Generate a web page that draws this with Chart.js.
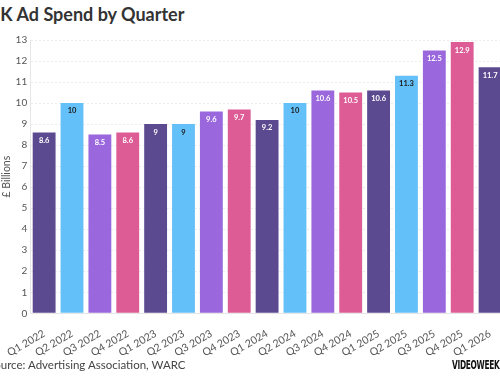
<!DOCTYPE html>
<html>
<head>
<meta charset="utf-8">
<script src="https://cdn.jsdelivr.net/npm/chart.js@4/dist/chart.umd.min.js"></script>
<style>
  html, body { margin: 0; padding: 0; width: 500px; height: 383px; overflow: hidden; background: #fff; }
  body { position: relative; font-family: Lato, "Open Sans", sans-serif; }
  #title { position: absolute; left: -13px; top: 3px; font-size: 18px; font-weight: 700; color: #333; white-space: nowrap; }
  #wrap { position: absolute; left: 0; top: 31px; width: 504px; height: 334px; }
  #source { position: absolute; left: -12px; top: 358px; font-size: 11.5px; color: #444; white-space: nowrap; }
  #logo { position: absolute; left: 452px; top: 358px; font-family: "DejaVu Sans", sans-serif; font-weight: 900; font-size: 12px; letter-spacing: -0.5px; color: #111; white-space: nowrap; transform: scaleX(0.62); transform-origin: left top; }
</style>
</head>
<body>
<div id="title">UK Ad Spend by Quarter</div>
<div id="wrap"><canvas id="chart"></canvas></div>
<div id="source">Source: Advertising Association, WARC</div>
<div id="logo">VIDEOWEEK</div>
<script>
// -----------------------------
// Data
// -----------------------------
const quarters = ['Q1 2022', 'Q2 2022', 'Q3 2022', 'Q4 2022',
                  'Q1 2023', 'Q2 2023', 'Q3 2023', 'Q4 2023',
                  'Q1 2024', 'Q2 2024', 'Q3 2024', 'Q4 2024',
                  'Q1 2025', 'Q2 2025', 'Q3 2025', 'Q4 2025', 'Q1 2026'];
const spend = [8.6, 10, 8.5, 8.6, 9, 9, 9.6, 9.7, 9.2, 10, 10.6, 10.5, 10.6, 11.3, 12.5, 12.9, 11.7];

// one colour per quarter (Q1..Q4)
const quarterColours = ['#5c4a90', '#64c0f8', '#9a67dd', '#dd5c96'];
const labelColours = ['#ffffff', '#1a1a1a', '#ffffff', '#ffffff'];

const barColours = quarters.map(q => quarterColours[parseInt(q[1]) - 1]);
const textColours = quarters.map(q => labelColours[parseInt(q[1]) - 1]);

// -----------------------------
// Value labels inside bar tops
// -----------------------------
const valueLabels = {
    id: 'valueLabels',
    afterDatasetsDraw(chart) {
        const ctx = chart.ctx;
        const meta = chart.getDatasetMeta(0);
        ctx.save();
        ctx.font = 'bold 7.5px Lato, "Open Sans", sans-serif';
        ctx.textAlign = 'center';
        ctx.textBaseline = 'middle';
        meta.data.forEach((bar, i) => {
            ctx.fillStyle = textColours[i];
            ctx.fillText(String(spend[i]), bar.x, bar.y + 8);
        });
        ctx.restore();
    }
};

// -----------------------------
// Chart
// -----------------------------
const ctx = document.getElementById('chart').getContext('2d');
new Chart(ctx, {
    type: 'bar',
    data: {
        labels: quarters,
        datasets: [{
            data: spend,
            backgroundColor: barColours,
            borderWidth: 0,
            barPercentage: 0.82,
            categoryPercentage: 1.0
        }]
    },
    options: {
        responsive: true,
        maintainAspectRatio: false,
        animation: false,
        layout: { padding: { top: 6, right: 0, left: 0, bottom: 0 } },
        plugins: {
            legend: { display: false },
            tooltip: { enabled: false }
        },
        scales: {
            x: {
                grid: { display: false },
                border: { color: '#e6e6e6' },
                ticks: {
                    color: '#555',
                    font: { family: 'Lato, "Open Sans", sans-serif', size: 10.5 },
                    minRotation: 30,
                    maxRotation: 30,
                    autoSkip: false,
                    padding: 6
                }
            },
            y: {
                min: 0,
                max: 13,
                grid: { color: '#ececec', drawTicks: false },
                border: { display: true, color: '#e6e6e6', dash: [2, 2] },
                ticks: {
                    stepSize: 1,
                    color: '#555',
                    padding: 3,
                    font: { family: 'Lato, "Open Sans", sans-serif', size: 10 }
                },
                title: {
                    display: true,
                    text: '£ Billions',
                    color: '#555',
                    padding: { top: 0, bottom: 0 },
                    font: { family: 'Lato, "Open Sans", sans-serif', size: 10.5 }
                }
            }
        }
    },
    plugins: [valueLabels]
});
</script>
</body>
</html>
